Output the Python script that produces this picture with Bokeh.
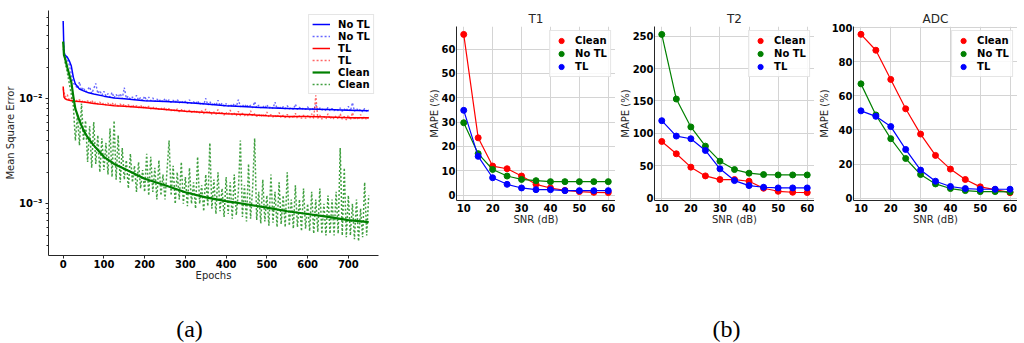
import math
from bokeh.plotting import figure
from bokeh.layouts import column, row
from bokeh.models import Range1d, FixedTicker, Legend, LegendItem, Label
from bokeh.embed import file_html
from bokeh.resources import INLINE

# ---------------- data: panel (a) ----------------
epoch_ticks = [0, 100, 200, 300, 400, 500, 600, 700]
mse_ticks = [1e-3, 1e-2]
mse_minor = [4e-4, 5e-4, 6e-4, 7e-4, 8e-4, 9e-4,
             2e-3, 3e-3, 4e-3, 5e-3, 6e-3, 7e-3, 8e-3, 9e-3,
             2e-2, 3e-2, 4e-2, 5e-2, 6e-2]
mse_labels = {1e-3: "10\u207b\u00b3", 1e-2: "10\u207b\u00b2"}

epochs_solid = [0, 2, 5, 10, 15, 20, 25, 30, 40, 50, 60, 75, 100, 125, 150,
                200, 250, 300, 350, 400, 450, 500, 550, 600, 650, 700, 750]
notl_solid = [0.055, 0.027, 0.026, 0.025, 0.023, 0.0205, 0.016, 0.0138, 0.0124, 0.0119,
              0.0115, 0.0111, 0.0106, 0.0102, 0.0100, 0.0096, 0.0094, 0.0092, 0.0089,
              0.0086, 0.0084, 0.0082, 0.0081, 0.0080, 0.0079, 0.0078, 0.0077]
tl_solid = [0.0131, 0.0104, 0.0100, 0.0098, 0.0097, 0.0096, 0.0096, 0.0095, 0.0094, 0.0093,
            0.0092, 0.0090, 0.0088, 0.0086, 0.0085, 0.0082, 0.0079, 0.0076, 0.0074,
            0.0072, 0.0071, 0.0069, 0.0068, 0.0068, 0.0067, 0.0066, 0.0066]
clean_solid = [0.035, 0.026, 0.024, 0.020, 0.017, 0.0144, 0.0105, 0.0080, 0.0062, 0.0050,
               0.0043, 0.0036, 0.0028, 0.0024, 0.00216, 0.00173, 0.00150, 0.00129, 0.00115,
               0.00106, 0.00099, 0.00092, 0.00085, 0.00080, 0.00075, 0.00070, 0.00067]

epochs_dot = list(range(0, 751, 5))
notl_dot = [
    0.030, 0.026, 0.024, 0.021, 0.017, 0.014, 0.0135, 0.0125, 0.0145, 0.0120,
    0.0128, 0.0115, 0.0122, 0.0130, 0.0112, 0.0125, 0.0140, 0.0112, 0.0120, 0.0108,
    0.0118, 0.0106, 0.0112, 0.0104, 0.0115, 0.0102, 0.0110, 0.0104, 0.0112, 0.0100,
    0.0128, 0.0101, 0.0106, 0.0099, 0.0104, 0.0098, 0.0108, 0.0097, 0.0103, 0.0096,
    0.0106, 0.0095, 0.0104, 0.0096, 0.0102, 0.0094, 0.0100, 0.0094, 0.0099, 0.0093,
    0.0101, 0.0093, 0.0098, 0.0092, 0.0097, 0.0092, 0.0099, 0.0091, 0.0096, 0.0091,
    0.0095, 0.0090, 0.0098, 0.0090, 0.0094, 0.0089, 0.0096, 0.0088, 0.0093, 0.0088,
    0.0101, 0.0087, 0.0094, 0.0087, 0.0092, 0.0086, 0.0097, 0.0086, 0.0091, 0.0085,
    0.0090, 0.0085, 0.0089, 0.0084, 0.0090, 0.0084, 0.0098, 0.0084, 0.0088, 0.0083,
    0.0089, 0.0083, 0.0087, 0.0082, 0.0094, 0.0082, 0.0087, 0.0082, 0.0086, 0.0081,
    0.0088, 0.0081, 0.0085, 0.0081, 0.0093, 0.0080, 0.0085, 0.0080, 0.0084, 0.0080,
    0.0086, 0.0080, 0.0083, 0.0079, 0.0089, 0.0079, 0.0083, 0.0079, 0.0082, 0.0079,
    0.0084, 0.0078, 0.0082, 0.0078, 0.0088, 0.0078, 0.0082, 0.0078, 0.0081, 0.0077,
    0.0083, 0.0077, 0.0081, 0.0077, 0.0080, 0.0077, 0.0082, 0.0076, 0.0080, 0.0076,
    0.0085, 0.0076, 0.0092, 0.0076, 0.0081, 0.0076, 0.0080, 0.0075, 0.0081, 0.0076,
    0.0079]
tl_dot = [
    0.0125, 0.0104, 0.0110, 0.0097, 0.0101, 0.0095, 0.0099, 0.0094, 0.0098, 0.0093,
    0.0097, 0.0092, 0.0096, 0.0091, 0.0097, 0.0090, 0.0094, 0.0089, 0.0093, 0.0088,
    0.0092, 0.0087, 0.0091, 0.0086, 0.0092, 0.0086, 0.0090, 0.0085, 0.0089, 0.0085,
    0.0089, 0.0084, 0.0088, 0.0083, 0.0088, 0.0083, 0.0086, 0.0082, 0.0087, 0.0081,
    0.0086, 0.0081, 0.0085, 0.0080, 0.0084, 0.0079, 0.0083, 0.0079, 0.0082, 0.0078,
    0.0083, 0.0077, 0.0081, 0.0077, 0.0080, 0.0076, 0.0080, 0.0075, 0.0079, 0.0075,
    0.0079, 0.0074, 0.0078, 0.0074, 0.0078, 0.0073, 0.0077, 0.0073, 0.0077, 0.0072,
    0.0080, 0.0072, 0.0076, 0.0071, 0.0075, 0.0071, 0.0079, 0.0071, 0.0074, 0.0070,
    0.0074, 0.0070, 0.0078, 0.0070, 0.0073, 0.0069, 0.0076, 0.0069, 0.0073, 0.0069,
    0.0072, 0.0068, 0.0077, 0.0068, 0.0072, 0.0068, 0.0071, 0.0067, 0.0072, 0.0067,
    0.0075, 0.0067, 0.0071, 0.0067, 0.0070, 0.0066, 0.0074, 0.0066, 0.0070, 0.0066,
    0.0071, 0.0066, 0.0069, 0.0065, 0.0073, 0.0065, 0.0069, 0.0065, 0.0070, 0.0065,
    0.0069, 0.0065, 0.0072, 0.0065, 0.0108, 0.0065, 0.0070, 0.0064, 0.0068, 0.0064,
    0.0072, 0.0064, 0.0068, 0.0064, 0.0069, 0.0064, 0.0072, 0.0064, 0.0068, 0.0063,
    0.0070, 0.0063, 0.0074, 0.0063, 0.0068, 0.0063, 0.0071, 0.0063, 0.0068, 0.0063,
    0.0067]
clean_dot = [
    0.035, 0.022, 0.018, 0.014, 0.011, 0.0085, 0.0040, 0.0070, 0.0036, 0.0090,
    0.0040, 0.0062, 0.0025, 0.0055, 0.0022, 0.0060, 0.0024, 0.0045, 0.0020, 0.0042,
    0.0021, 0.0038, 0.0019, 0.0052, 0.0018, 0.0062, 0.0017, 0.0045, 0.0016, 0.0034,
    0.0017, 0.0026, 0.0014, 0.0030, 0.0016, 0.0023, 0.0013, 0.0025, 0.0014, 0.0021,
    0.0013, 0.0030, 0.0012, 0.0028, 0.0013, 0.0022, 0.0011, 0.0026, 0.0012, 0.0019,
    0.0011, 0.0021, 0.0040, 0.0012, 0.0023, 0.0010, 0.0020, 0.0011, 0.0025, 0.0010,
    0.0018, 0.00095, 0.0022, 0.0010, 0.0016, 0.00090, 0.0028, 0.0010, 0.0015, 0.00085,
    0.0019, 0.00095, 0.0038, 0.00090, 0.0017, 0.00080, 0.0020, 0.00085, 0.0014, 0.00075,
    0.0018, 0.00080, 0.0016, 0.00072, 0.0019, 0.00078, 0.0013, 0.0040, 0.00075, 0.0015,
    0.00068, 0.0024, 0.00072, 0.0014, 0.0042, 0.00070, 0.0013, 0.00065, 0.0017, 0.00068,
    0.0012, 0.00062, 0.0019, 0.00066, 0.0013, 0.00060, 0.0016, 0.00064, 0.0012, 0.00060,
    0.0020, 0.00062, 0.0011, 0.00058, 0.0015, 0.00060, 0.0011, 0.00055, 0.0014, 0.00058,
    0.0010, 0.00055, 0.0013, 0.00052, 0.0011, 0.00054, 0.0014, 0.00052, 0.0010, 0.00050,
    0.0012, 0.00052, 0.0011, 0.00050, 0.0013, 0.00052, 0.0034, 0.00050, 0.0022, 0.00048,
    0.0012, 0.00050, 0.0010, 0.00046, 0.0011, 0.00044, 0.0009, 0.00048, 0.0016, 0.00050,
    0.0012]

# ---------------- data: panel (b) ----------------
snr = [10, 15, 20, 25, 30, 35, 40, 45, 50, 55, 60]
snr_ticks = [10, 20, 30, 40, 50, 60]
t1_ticks = [0, 10, 20, 30, 40, 50, 60]
t2_ticks = [0, 50, 100, 150, 200, 250]
adc_ticks = [0, 20, 40, 60, 80, 100]
t1_clean = [66, 23.5, 11.9, 10.8, 7.8, 4.4, 2.9, 1.9, 1.4, 1.1, 1.0]
t1_notl = [29.7, 17, 10.5, 7.8, 6.4, 5.9, 5.5, 5.5, 5.5, 5.5, 5.5]
t1_tl = [34.8, 15.9, 7.1, 4.4, 2.9, 2.2, 2.2, 1.8, 1.8, 1.8, 1.8]
t2_clean = [87.6, 68.6, 48, 34.5, 28.9, 28.9, 26.3, 15.5, 10.8, 9.3, 8.8]
t2_notl = [252.6, 153, 110, 80.4, 57.2, 44.3, 38.7, 36.6, 36, 36, 36]
t2_tl = [119.6, 95.9, 91.8, 73.7, 45.4, 27.3, 19.6, 17, 16, 16, 16]
adc_clean = [96, 86.7, 69.6, 52.4, 37.6, 25.1, 17.1, 11, 6.7, 5.1, 3.3]
adc_notl = [67, 48.8, 34.9, 23.3, 13.9, 8.4, 5.7, 4.5, 3.9, 3.9, 3.7]
adc_tl = [51.2, 48, 42, 28.6, 16.5, 10, 6.9, 5.7, 5.3, 5.3, 5.3]

FONT = "DejaVu Sans"
DARK = "#262626"
RED, GREEN, BLUE = "#ff0000", "#008000", "#0000ff"


def no_align(f):
    if "frame_align" in f.properties():
        f.frame_align = False


def style_axes(p):
    for ax in p.axis:
        ax.axis_line_color = DARK
        ax.axis_line_width = 1
        ax.major_tick_line_color = DARK
        ax.minor_tick_line_color = DARK
        ax.major_label_text_font = FONT
        ax.major_label_text_font_style = "bold"
        ax.major_label_text_font_size = "10px"
        ax.major_label_text_color = "#000000"
        ax.axis_label_text_font = FONT
        ax.axis_label_text_font_style = "normal"
        ax.axis_label_text_font_size = "10px"
        ax.axis_label_text_color = DARK


def style_legend(leg):
    leg.label_text_font = FONT
    leg.label_text_font_style = "bold"
    leg.label_text_font_size = "10px"
    leg.label_text_color = "#000000"
    leg.border_line_color = "#cccccc"
    leg.border_line_width = 1
    leg.background_fill_alpha = 0.85
    leg.label_standoff = 6
    leg.padding = 3
    leg.margin = 4
    leg.spacing = 0


# ---------------- panel (a) ----------------
pa = figure(width=392, height=290, y_axis_type="log",
            x_range=Range1d(-36, 774), y_range=Range1d(3.22e-4, 0.0693),
            output_backend="svg", toolbar_location=None,
            min_border_left=48, min_border_right=14, min_border_top=10, min_border_bottom=35)
no_align(pa)
pa.outline_line_color = None
pa.grid.visible = False
pa.xaxis.axis_label = "Epochs"
pa.yaxis.axis_label = "Mean Square Error"
pa.xaxis.ticker = FixedTicker(ticks=epoch_ticks)
pa.yaxis.ticker = FixedTicker(ticks=mse_ticks, minor_ticks=mse_minor)
pa.yaxis.major_label_overrides = mse_labels
style_axes(pa)
pa.xaxis.major_tick_out = 3
pa.xaxis.major_tick_in = 0
pa.xaxis.minor_tick_out = 0
pa.xaxis.minor_tick_in = 0
pa.xaxis.major_label_standoff = 1
pa.xaxis.axis_label_standoff = -1
pa.yaxis.major_tick_out = 3
pa.yaxis.major_tick_in = 0
pa.yaxis.minor_tick_out = 2
pa.yaxis.minor_tick_in = 0
pa.yaxis.major_label_standoff = 3
pa.yaxis.axis_label_standoff = 0

r1 = pa.line(epochs_solid, notl_solid, line_color=BLUE, line_width=1.5)
r2 = pa.line(epochs_dot, notl_dot, line_color=BLUE, line_width=1.4, line_dash="2 2", line_alpha=0.6)
r3 = pa.line(epochs_solid, tl_solid, line_color=RED, line_width=1.5)
r4 = pa.line(epochs_dot, tl_dot, line_color=RED, line_width=1.4, line_dash="2 2", line_alpha=0.6)
r5 = pa.line(epochs_solid, clean_solid, line_color=GREEN, line_width=2.2)
r6 = pa.line(epochs_dot, clean_dot, line_color=GREEN, line_width=1.5, line_dash="2 2", line_alpha=0.75)
leg_a = Legend(items=[LegendItem(label="No TL", renderers=[r1]),
                      LegendItem(label="No TL", renderers=[r2]),
                      LegendItem(label="TL", renderers=[r3]),
                      LegendItem(label="TL", renderers=[r4]),
                      LegendItem(label="Clean", renderers=[r5]),
                      LegendItem(label="Clean", renderers=[r6])],
               location="top_right")
style_legend(leg_a)
leg_a.glyph_width = 18
leg_a.glyph_height = 12
leg_a.label_height = 12
leg_a.label_standoff = 8
pa.add_layout(leg_a)


# ---------------- panel (b) ----------------
def mape_panel(title, width, left, y_lo, y_hi, yticks, clean, notl, tl):
    p = figure(width=width, height=290, title=title,
               x_range=Range1d(7.5, 62.5), y_range=Range1d(y_lo, y_hi),
               output_backend="svg", toolbar_location=None,
               min_border_left=left, min_border_right=0, min_border_top=26, min_border_bottom=90)
    no_align(p)
    p.title.align = "center"
    p.title.text_font = FONT
    p.title.text_font_size = "12px"
    p.title.text_font_style = "normal"
    p.title.text_color = DARK
    p.title.standoff = 2
    p.outline_line_color = None
    p.xaxis.ticker = FixedTicker(ticks=snr_ticks)
    p.yaxis.ticker = FixedTicker(ticks=yticks)
    p.xaxis.axis_label = "SNR (dB)"
    p.yaxis.axis_label = "MAPE (%)"
    style_axes(p)
    for ax in p.axis:
        ax.major_tick_out = 0
        ax.major_tick_in = 0
        ax.minor_tick_out = 0
        ax.minor_tick_in = 0
    p.xaxis.major_label_standoff = 3
    p.xaxis.axis_label_standoff = -1
    p.yaxis.major_label_standoff = 1
    p.yaxis.axis_label_standoff = -1
    p.grid.grid_line_color = "#d4d4d4"
    p.grid.grid_line_width = 1
    items = []
    for lab, vals, col in (("Clean", clean, RED), ("No TL", notl, GREEN), ("TL", tl, BLUE)):
        p.line(snr, vals, line_color=col, line_width=1.2)
        c = p.scatter(snr, vals, marker="circle", size=6, fill_color=col, line_color=col)
        eb = p.vspan(x=[], line_color=col, line_width=1.3)
        items.append(LegendItem(label=lab, renderers=[eb, c]))
    leg = Legend(items=items, location="top_right")
    style_legend(leg)
    leg.glyph_width = 16
    leg.glyph_height = 13
    leg.label_height = 13
    p.add_layout(leg)
    return p


p1 = mape_panel("T1", 223, 64, -2.25, 69.25, t1_ticks, t1_clean, t1_notl, t1_tl)
p2 = mape_panel("T2", 199, 39, -3.4, 264.8, t2_ticks, t2_clean, t2_notl, t2_tl)
p3 = mape_panel("ADC", 203, 39, -1.3, 100.6, adc_ticks, adc_clean, adc_notl, adc_tl)

# ---------------- captions ----------------
pc = figure(width=1017, height=52, x_range=Range1d(0, 1017), y_range=Range1d(0, 52),
            output_backend="svg", toolbar_location=None, min_border=0,
            x_axis_location=None, y_axis_location=None)
no_align(pc)
pc.outline_line_color = None
pc.grid.visible = False
for txt, xc in (("(a)", 189), ("(b)", 726)):
    pc.add_layout(Label(x=xc, y=14, text=txt, text_align="center", text_baseline="middle",
                        text_font="Liberation Serif", text_font_size="24px", text_color="#000000"))

layout = column(row(pa, column(row(p1, p2, p3))), pc)
open("out.html", "w").write(file_html(layout, INLINE))
